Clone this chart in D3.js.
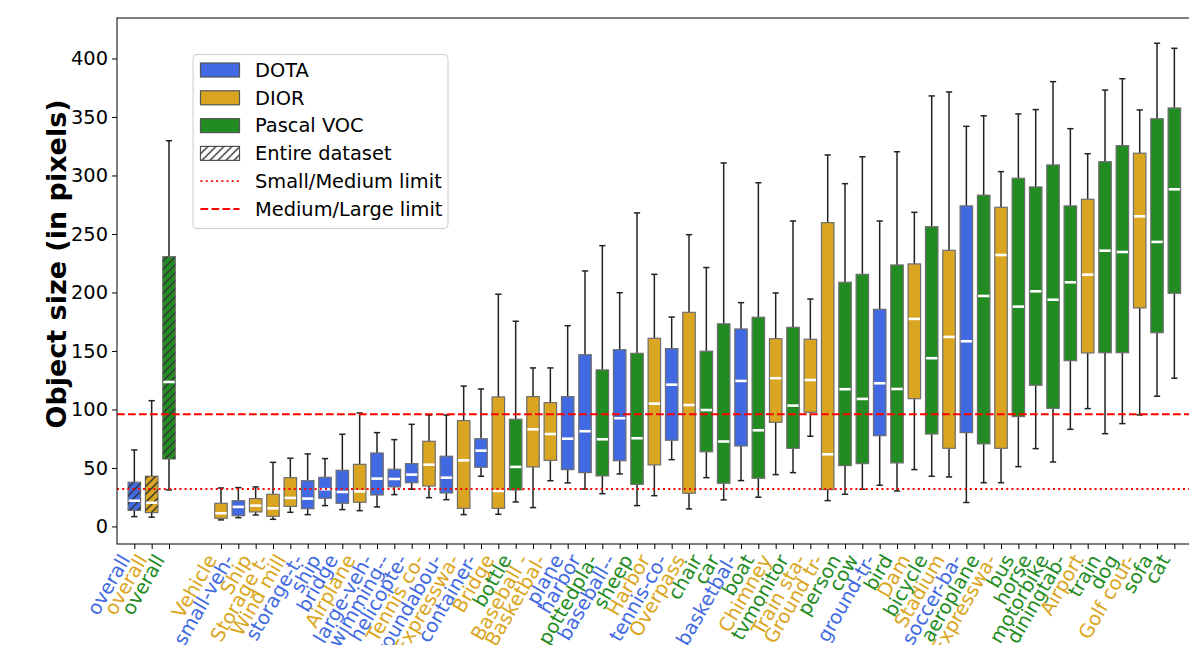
<!DOCTYPE html>
<html>
<head>
<meta charset="utf-8">
<script src="https://cdn.jsdelivr.net/npm/d3@7"></script>
<style>
  body { margin: 0; background: #fff; }
  svg { font-family: "DejaVu Sans", sans-serif; }
</style>
</head>
<body>
<svg id="chart" width="1189" height="645"></svg>
<script>
// labels along the x axis (first three are the whole datasets)
var categories = ["overall", "overall", "overall",
  "Vehicle", "small-veh-", "Ship", "Storage t-", "Wind mill", "storage-t-", "ship", "bridge",
  "Airplane", "large-veh-", "swimming--", "helicopte-", "Tennis co-", "roundabou-", "Expresswa-",
  "container-", "Bridge", "bottle", "Baseball -", "Basketbal-", "plane", "harbor", "pottedpla-",
  "baseball--", "sheep", "Harbor", "tennis-co-", "Overpass", "chair", "car", "basketbal-", "boat",
  "Chimney", "tvmonitor", "Train sta-", "Ground tr-", "person", "cow", "ground-tr-", "bird", "Dam",
  "bicycle", "Stadium", "soccer-ba-", "aeroplane", "Expresswa-", "bus", "horse", "motorbike",
  "diningtab-", "Airport", "train", "dog", "Golf cour-", "sofa", "cat"];

var sources = ["DOTA", "DIOR", "VOC",
  "DIOR", "DOTA", "DIOR", "DIOR", "DIOR", "DOTA", "DOTA", "DOTA",
  "DIOR", "DOTA", "DOTA", "DOTA", "DIOR", "DOTA", "DIOR",
  "DOTA", "DIOR", "VOC", "DIOR", "DIOR", "DOTA", "DOTA", "VOC",
  "DOTA", "VOC", "DIOR", "DOTA", "DIOR", "VOC", "VOC", "DOTA", "VOC",
  "DIOR", "VOC", "DIOR", "DIOR", "VOC", "VOC", "DOTA", "VOC", "DIOR",
  "VOC", "DIOR", "DOTA", "VOC", "DIOR", "VOC", "VOC", "VOC",
  "VOC", "DIOR", "VOC", "VOC", "DIOR", "VOC", "VOC"];

var whiskerLow = [8.4, 7.9, 31.2,
  5.6, 7.5, 9.8, 6.1, 12.1, 10.1, 17.8, 14.4,
  13.5, 16.7, 27.2, 31.8, 24.6, 22.9, 10.1,
  42.9, 10.4, 20.9, 16.1, 39.1, 37.2, 32, 28,
  44.9, 17.8, 26.3, 57.1, 15, 41.7, 22.7, 39.2, 25,
  44.3, 46, 77.1, 22.1, 27.5, 31.8, 35.2, 30.3, 48.6,
  42.9, 42.3, 20.5, 37.4, 37.4, 51.1, 66.5, 55.1,
  83, 100.7, 79.3, 87.9, 95.3, 111.3, 126.7];

var q1 = [13.8, 11.8, 57.7,
  7, 9.2, 12.4, 8.7, 17.2, 15.2, 24.1, 19.8,
  20.7, 26.9, 33.8, 37.4, 34.6, 28.6, 15.5,
  50.6, 15.5, 31.2, 50.9, 56.5, 48.6, 46, 43.2,
  56.2, 36, 52.6, 73.7, 28.4, 63.8, 36.9, 68.8, 41.2,
  89, 66.8, 97.6, 31.5, 52, 53.7, 77.6, 54.3, 109.2,
  79, 66.8, 80.2, 70.6, 66.8, 93.9, 120.7, 101,
  141.7, 148.3, 148.5, 148.5, 186.8, 165.6, 199.3];

var median = [22, 20.3, 123.5,
  11.3, 16.7, 17.8, 15.5, 24.4, 23.8, 31.8, 29.5,
  30, 40.9, 40.6, 44.3, 52.8, 41.7, 56.5,
  64.8, 30.3, 50.9, 83, 79, 75, 81.4, 74.5,
  92.5, 75.4, 105, 121.2, 103.8, 99.5, 72.6, 124.4, 82.2,
  126.7, 103.3, 125.2, 61.7, 117.3, 109, 122.4, 117.5, 177.4,
  143.8, 162, 158.3, 197, 232, 187.9, 201, 193.8,
  208.7, 215.2, 235.7, 234.6, 265.1, 243.2, 288.2];

var q3 = [37.8, 42.9, 230.6,
  19.8, 22, 23.8, 27.5, 41.7, 39.1, 42, 48,
  53.1, 62.8, 48.9, 53.7, 72.8, 60, 90.5,
  75, 110.7, 91.6, 111, 105.8, 111, 146.8, 133.8,
  151.1, 148, 160.8, 152, 183, 149.8, 173.2, 168.8, 178.8,
  160.5, 170.2, 160, 259.7, 208.7, 215.5, 185.6, 223.5, 224.4,
  256.2, 236, 274, 283.2, 272.8, 297.6, 290.2, 309,
  274, 279.7, 311.8, 325.5, 319, 348.5, 357.7];

var whiskerHigh = [65.4, 107.5, 329.7,
  32.9, 33.2, 33.8, 54.8, 58.3, 62, 58, 78.8,
  97, 80.2, 74.2, 87.3, 95.3, 95.3, 120,
  117.5, 198.5, 175.4, 135.5, 135.5, 171.6, 218.4, 240,
  199.8, 268, 215.5, 179, 249.4, 221.3, 310.7, 191.3, 293.8,
  199.6, 261.1, 194.4, 317.5, 293, 316, 261.1, 320.3, 268.5,
  368, 371.4, 342, 351, 303.3, 352.6, 356.3, 380.2,
  340, 318.6, 373, 382.7, 356, 413, 408.7];

var yTicks = [0, 50, 100, 150, 200, 250, 300, 350, 400];
var smallMediumLimit = 32;
var mediumLargeLimit = 96;

var colors = { DOTA: "#4169e1", DIOR: "#daa520", VOC: "#228b22" };
var legendNames = { DOTA: "DOTA", DIOR: "DIOR", VOC: "Pascal VOC" };

var fontSize = 19.4;
var svg = d3.select("#chart");
var plot = { left: 117, right: 1191.7, top: 18, bottom: 544 };

// two empty slots separate the whole-dataset boxes from the per-class boxes
var slots = categories.map(function (c, i) { return "s" + i; });
var domain = slots.slice(0, 3).concat(["gapA", "gapB"], slots.slice(3));

var x = d3.scalePoint().domain(domain).range([plot.left, plot.right]).padding(1);
var y = d3.scaleLinear().domain([-15, 434.6]).range([plot.bottom, plot.top]);
var boxW = x.step() * 0.72;
var capW = boxW / 2;

var defs = svg.append("defs");
var hatch = defs.append("pattern")
  .attr("id", "hatch")
  .attr("patternUnits", "userSpaceOnUse")
  .attr("width", 8).attr("height", 8);
hatch.append("path")
  .attr("d", "M-2,2 l4,-4 M0,8 l8,-8 M6,10 l4,-4")
  .attr("stroke", "#333").attr("stroke-width", 1.4);

var rows = categories.map(function (c, i) {
  return { key: slots[i], label: c, src: sources[i], entire: i < 3,
    lo: whiskerLow[i], q1: q1[i], med: median[i], q3: q3[i], hi: whiskerHigh[i] };
});

var g = svg.append("g");

var box = g.selectAll("g.box").data(rows).enter().append("g").attr("class", "box");

// whiskers
box.append("line")
  .attr("x1", function (d) { return x(d.key); })
  .attr("x2", function (d) { return x(d.key); })
  .attr("y1", function (d) { return y(d.q3); })
  .attr("y2", function (d) { return y(d.hi); })
  .attr("stroke", "#222").attr("stroke-width", 1.5);
box.append("line")
  .attr("x1", function (d) { return x(d.key); })
  .attr("x2", function (d) { return x(d.key); })
  .attr("y1", function (d) { return y(d.q1); })
  .attr("y2", function (d) { return y(d.lo); })
  .attr("stroke", "#222").attr("stroke-width", 1.5);
// caps
["hi", "lo"].forEach(function (k) {
  box.append("line")
    .attr("x1", function (d) { return x(d.key) - capW / 2; })
    .attr("x2", function (d) { return x(d.key) + capW / 2; })
    .attr("y1", function (d) { return y(d[k]); })
    .attr("y2", function (d) { return y(d[k]); })
    .attr("stroke", "#222").attr("stroke-width", 1.5);
});
// boxes
box.append("rect")
  .attr("x", function (d) { return x(d.key) - boxW / 2; })
  .attr("y", function (d) { return y(d.q3); })
  .attr("width", boxW)
  .attr("height", function (d) { return y(d.q1) - y(d.q3); })
  .attr("fill", function (d) { return colors[d.src]; })
  .attr("stroke", "#6e6e6e").attr("stroke-width", 1.2);
box.filter(function (d) { return d.entire; }).append("rect")
  .attr("x", function (d) { return x(d.key) - boxW / 2; })
  .attr("y", function (d) { return y(d.q3); })
  .attr("width", boxW)
  .attr("height", function (d) { return y(d.q1) - y(d.q3); })
  .attr("fill", "url(#hatch)");
// medians
box.append("line")
  .attr("x1", function (d) { return x(d.key) - boxW / 2 + 0.6; })
  .attr("x2", function (d) { return x(d.key) + boxW / 2 - 0.6; })
  .attr("y1", function (d) { return y(d.med); })
  .attr("y2", function (d) { return y(d.med); })
  .attr("stroke", "#fff").attr("stroke-width", 2.6);

// size limits
svg.append("line")
  .attr("x1", plot.left).attr("x2", plot.right)
  .attr("y1", y(smallMediumLimit)).attr("y2", y(smallMediumLimit))
  .attr("stroke", "red").attr("stroke-width", 1.8).attr("stroke-dasharray", "2,3.2");
svg.append("line")
  .attr("x1", plot.left).attr("x2", plot.right)
  .attr("y1", y(mediumLargeLimit)).attr("y2", y(mediumLargeLimit))
  .attr("stroke", "red").attr("stroke-width", 2).attr("stroke-dasharray", "7.7,3.3");

// axes
var yAxis = svg.append("g")
  .attr("transform", "translate(" + plot.left + ",0)")
  .call(d3.axisLeft(y).tickValues(yTicks).tickSize(5).tickPadding(4));
yAxis.select(".domain").remove();
yAxis.selectAll("text").attr("font-size", fontSize).attr("font-family", "DejaVu Sans").attr("fill", "#000");

var xAxis = svg.append("g")
  .attr("transform", "translate(0," + plot.bottom + ")")
  .call(d3.axisBottom(x).tickValues(slots).tickSize(5).tickFormat(""));
xAxis.select(".domain").remove();

xAxis.selectAll(".tick").each(function (s) {
  var r = rows[slots.indexOf(s)];
  d3.select(this).append("text")
    .attr("transform", "translate(-4,15.5) rotate(-60)")
    .attr("text-anchor", "end")
    .attr("font-size", fontSize)
    .attr("font-family", "DejaVu Sans")
    .attr("fill", colors[r.src])
    .text(r.label);
});

// frame
svg.append("rect")
  .attr("x", plot.left).attr("y", plot.top)
  .attr("width", plot.right - plot.left).attr("height", plot.bottom - plot.top)
  .attr("fill", "none").attr("stroke", "#000").attr("stroke-width", 1);

svg.append("text")
  .attr("transform", "translate(66,264) rotate(-90)")
  .attr("text-anchor", "middle")
  .attr("font-size", 27)
  .attr("font-weight", "bold")
  .text("Object size (in pixels)");

// legend
var legend = svg.append("g").attr("transform", "translate(193,54.5)");
legend.append("rect")
  .attr("width", 255).attr("height", 174).attr("rx", 4)
  .attr("fill", "#fff").attr("fill-opacity", 0.8)
  .attr("stroke", "#ccc");

var items = [
  { type: "patch", fill: colors.DOTA, name: legendNames.DOTA },
  { type: "patch", fill: colors.DIOR, name: legendNames.DIOR },
  { type: "patch", fill: colors.VOC, name: legendNames.VOC },
  { type: "hatch", fill: "#fff", name: "Entire dataset" },
  { type: "line", dash: "2,3.2", width: 1.8, name: "Small/Medium limit" },
  { type: "line", dash: "7.7,3.3", width: 2, name: "Medium/Large limit" }
];
var item = legend.selectAll("g.item").data(items).enter().append("g")
  .attr("class", "item")
  .attr("transform", function (d, i) { return "translate(0," + (15.5 + i * 27.8) + ")"; });
item.filter(function (d) { return d.type !== "line"; }).append("rect")
  .attr("x", 7.5).attr("y", -7).attr("width", 39).attr("height", 14)
  .attr("fill", function (d) { return d.fill; })
  .attr("stroke", "#555").attr("stroke-width", 1.2);
item.filter(function (d) { return d.type === "hatch"; }).append("rect")
  .attr("x", 7.5).attr("y", -7).attr("width", 39).attr("height", 14)
  .attr("fill", "url(#hatch)");
item.filter(function (d) { return d.type === "line"; }).append("line")
  .attr("x1", 7.5).attr("x2", 46.5)
  .attr("stroke", "red")
  .attr("stroke-width", function (d) { return d.width; })
  .attr("stroke-dasharray", function (d) { return d.dash; });
item.append("text")
  .attr("x", 62).attr("dy", "0.35em")
  .attr("font-size", fontSize)
  .text(function (d) { return d.name; });
</script>
</body>
</html>
